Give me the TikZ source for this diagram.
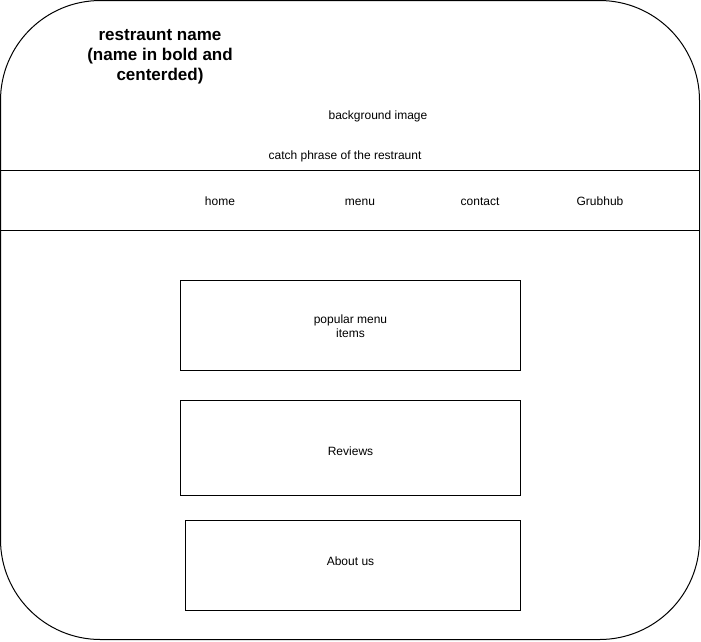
\documentclass[tikz,border=0pt]{standalone}
\usepackage{fontspec}
\setmainfont{Liberation Sans}
\begin{document}
\begin{tikzpicture}[x=1pt,y=-1pt,
  lbl/.style={font=\fontsize{12}{14}\selectfont, text=black, inner sep=0pt, align=center},
  titlelbl/.style={font=\fontsize{17}{20}\selectfont\bfseries, text=black, inner sep=0pt, align=center},
  section/.style={draw=black, line width=1pt, fill=white}]
\useasboundingbox (0,0) rectangle (701,641);
% outer page
\draw[line width=1pt, rounded corners=100pt] (0.5,0.5) rectangle (699.5,639.5);
% nav lines
\coordinate (l1a) at (0.5,170.5);
\coordinate (l1b) at (699.5,170.5);
\coordinate (l2a) at (0.5,230.5);
\coordinate (l2b) at (699.5,230.5);
\draw[line width=1pt] (l1a) -- (l1b);
\draw[line width=1pt] (l2a) -- (l2b);
% texts
\node[titlelbl] (title) at (160,57) {restraunt name\\(name in bold and\\centerded)};
\node[lbl] (bg) at (378,116.5) {background image};
\node[lbl] (catch) at (345,156.5) {catch phrase of the restraunt};
\node[lbl, anchor=base] (home) at (220,205) {home};
\node[lbl, anchor=base] (menu) at (360,205) {menu};
\node[lbl, anchor=base] (contact) at (480,205) {contact};
\node[lbl, anchor=base] (grub) at (600,205) {Grubhub};
% boxes
\draw[section] (180.5,280.5) rectangle (520.5,370.5);
\node[lbl] (popular) at (350.5,326) {popular menu\\items};
\draw[section] (180.5,400.5) rectangle (520.5,495.5);
\node[lbl] (reviews) at (350.5,451) {Reviews};
\draw[section] (185.5,520.5) rectangle (520.5,610.5);
\node[lbl] (about) at (350.5,561) {About us};
\end{tikzpicture}
\end{document}
